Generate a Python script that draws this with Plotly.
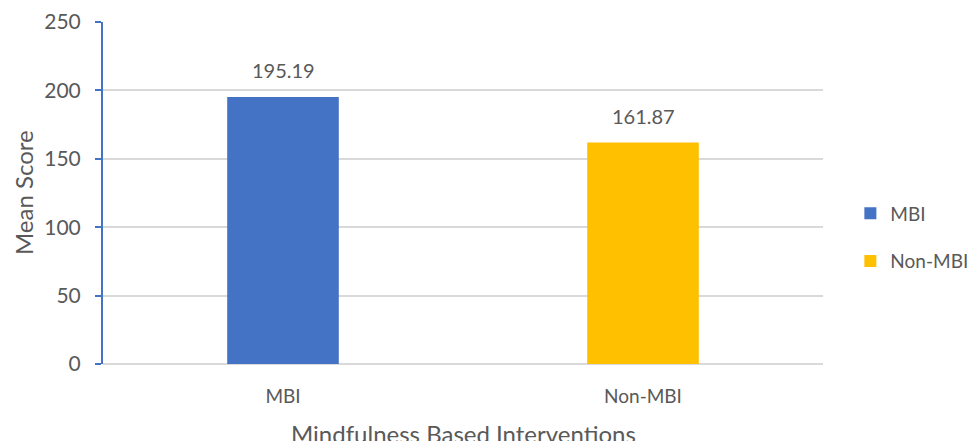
import plotly.graph_objects as go

categories = ["MBI", "Non-MBI"]
values = [195.19, 161.87]
colors = ["#4472C4", "#FFC000"]
y_ticks = [0, 50, 100, 150, 200, 250]
x_title = "Mindfulness Based Interventions"
y_title = "Mean Score"

FONT = "Lato, Open Sans, sans-serif"
GRAY = "#595959"

fig = go.Figure()
for i, (c, v) in enumerate(zip(categories, values)):
    fig.add_trace(go.Bar(
        x=[c], y=[v], name=c, marker=dict(color=colors[i], line=dict(width=0)),
        width=0.31, legendgroup=c,
    ))
    fig.add_annotation(
        x=c, y=v, xref="x", yref="y", text=f"{v:.2f}", showarrow=False,
        yanchor="middle", yshift=27,
        font=dict(size=20, color=GRAY, family=FONT),
    )

# axis titles
fig.add_annotation(
    x=0.5, y=-0.202, xref="paper", yref="paper", text=x_title, showarrow=False,
    xanchor="center", yanchor="middle",
    font=dict(size=24, color=GRAY, family=FONT),
)
fig.add_annotation(
    x=-0.111, y=0.5, xref="paper", yref="paper", text=y_title, showarrow=False,
    xanchor="center", yanchor="middle", textangle=-90,
    font=dict(size=24, color=GRAY, family=FONT),
)

fig.update_layout(
    width=971, height=441,
    margin=dict(l=103, r=148, t=22, b=77, autoexpand=False),
    paper_bgcolor="white", plot_bgcolor="white",
    barmode="overlay",
    font=dict(family=FONT, size=19, color=GRAY),
    showlegend=True,
    legend=dict(x=1.038, xanchor="left", y=0.37, yanchor="middle",
                traceorder="grouped", tracegroupgap=20,
                font=dict(size=19, color=GRAY, family=FONT),
                itemwidth=30),
    xaxis=dict(
        categoryorder="array", categoryarray=categories,
        showline=False, ticks="", showgrid=False,
        tickfont=dict(size=19, color=GRAY), ticklabelstandoff=19,
        range=[-0.5, 1.5],
    ),
    yaxis=dict(
        range=[0, 250], tickvals=y_ticks,
        showgrid=True, gridcolor="#D9D9D9", gridwidth=1.5,
        showline=True, linecolor="#4472C4", linewidth=2,
        ticks="outside", tickcolor="#4472C4", ticklen=6, tickwidth=2,
        zeroline=True, zerolinecolor="#D9D9D9", zerolinewidth=1.5,
        tickfont=dict(size=21, color=GRAY), ticklabelstandoff=10,
    ),
)

fig.write_html("out.html")
